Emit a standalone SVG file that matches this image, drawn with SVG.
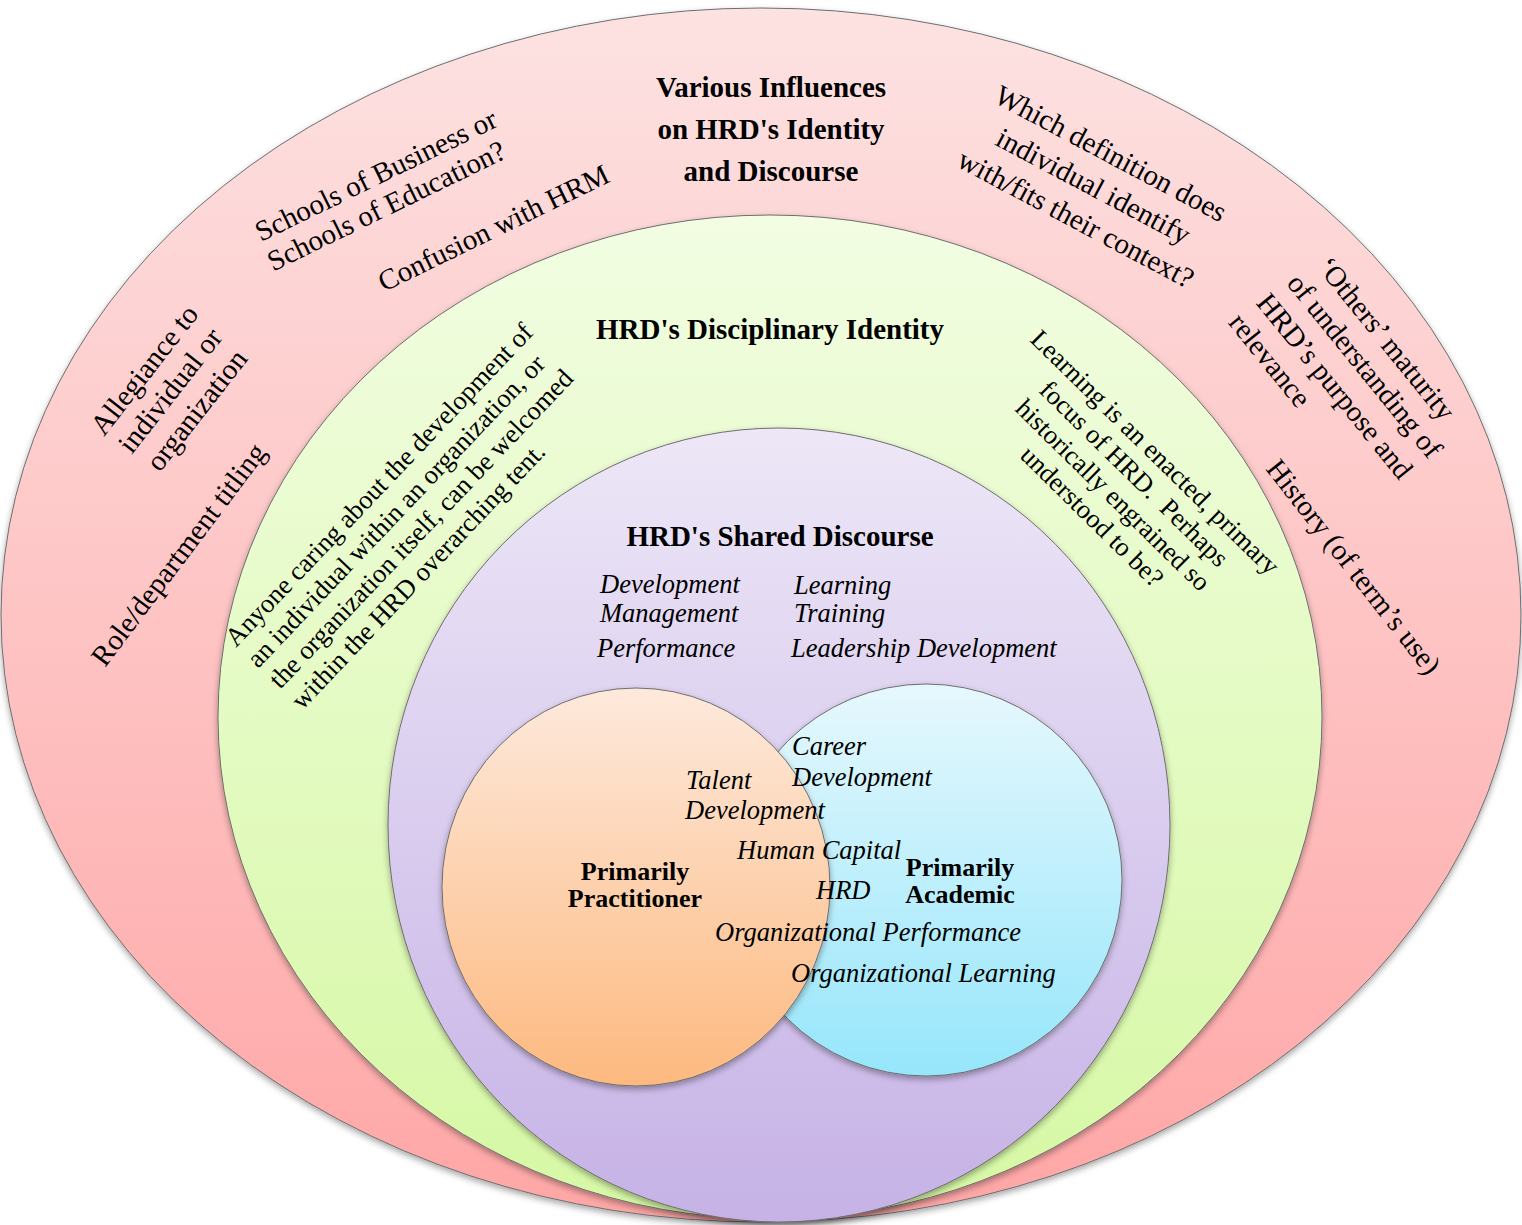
<svg xmlns="http://www.w3.org/2000/svg" width="1522" height="1225" viewBox="0 0 1522 1225">
<defs>
<linearGradient id="gRed" x1="0" y1="0" x2="0" y2="1"><stop offset="0" stop-color="#fde2e2"/><stop offset="1" stop-color="#ffa6a6"/></linearGradient>
<linearGradient id="gGreen" x1="0" y1="0" x2="0" y2="1"><stop offset="0" stop-color="#f2fde2"/><stop offset="1" stop-color="#d6f8a4"/></linearGradient>
<linearGradient id="gPurple" x1="0" y1="0" x2="0" y2="1"><stop offset="0" stop-color="#ede7f7"/><stop offset="1" stop-color="#c6b2e6"/></linearGradient>
<linearGradient id="gOrange" x1="0" y1="0" x2="0" y2="1"><stop offset="0" stop-color="#fde9dc"/><stop offset="1" stop-color="#fdb97f"/></linearGradient>
<linearGradient id="gBlue" x1="0" y1="0" x2="0" y2="1"><stop offset="0" stop-color="#e6f8fd"/><stop offset="1" stop-color="#96e6fb"/></linearGradient>
<filter id="sh" x="-5%" y="-5%" width="110%" height="112%"><feDropShadow dx="0" dy="3" stdDeviation="3" flood-color="#000" flood-opacity="0.35"/></filter>
</defs>
<style>
.shape{stroke:#6e6e6e;stroke-width:1;filter:url(#sh)}
text{font-family:"Liberation Serif","Times New Roman",serif;fill:#000}
.title{font-size:29px;font-weight:bold;text-anchor:middle}
.outer{font-size:29px}
.ring{font-size:26.5px}
.term{font-size:26.5px;font-style:italic}
.lbl{font-size:26px;font-weight:bold;text-anchor:middle}
</style>

<g id="influences">
<ellipse class="shape" cx="761" cy="615" rx="760" ry="607" fill="url(#gRed)"/>
<text class="title"><tspan x="771" y="97">Various Influences</tspan><tspan x="771" y="139">on HRD's Identity</tspan><tspan x="771" y="181">and Discourse</tspan></text>
<text class="outer" transform="translate(261,242) rotate(-26)"><tspan x="0" y="0">Schools of Business or</tspan><tspan x="-2" y="32">Schools of Education?</tspan></text>
<text class="outer" transform="translate(384,292) rotate(-26)">Confusion with HRM</text>
<text class="outer" transform="translate(104,437) rotate(-52)"><tspan x="0" y="0">Allegiance to</tspan><tspan x="3" y="33">individual or</tspan><tspan x="6" y="66">organization</tspan></text>
<text class="outer" transform="translate(105,668) rotate(-53)">Role/department titling</text>
<text class="outer" text-anchor="middle" transform="translate(1086,200) rotate(28)"><tspan x="0" y="-43">Which definition does</tspan><tspan x="0" y="-6">individual identify</tspan><tspan x="0" y="31">with/fits their context?</tspan></text>
<text class="outer" transform="translate(1316,267) rotate(51)"><tspan x="0" y="0">‘Others’ maturity</tspan><tspan x="-6" y="34">of understanding of</tspan><tspan x="-10" y="70">HRD’s purpose and</tspan><tspan x="-12" y="104">relevance</tspan></text>
<text class="outer" transform="translate(1265,469) rotate(52)">History (of term’s use)</text>
</g>

<g id="disciplinary-identity">
<ellipse class="shape" cx="770" cy="717" rx="552" ry="502" fill="url(#gGreen)"/>
<text class="title" x="770" y="339">HRD's Disciplinary Identity</text>
<text class="ring" transform="translate(236,648) rotate(-46.5)"><tspan x="0" y="0">Anyone caring about the development of</tspan><tspan x="0" y="30.4">an individual within an organization, or</tspan><tspan x="0" y="60.8">the organization itself, can be welcomed</tspan><tspan x="0" y="91.2">within the HRD overarching tent.</tspan></text>
<text class="ring" text-anchor="middle" transform="translate(1122,486) rotate(44.5)"><tspan x="0" y="-38.5">Learning is an enacted, primary</tspan><tspan x="0" y="-8.5">focus of HRD.&#160; Perhaps</tspan><tspan x="0" y="21.5">historically engrained so</tspan><tspan x="0" y="51.5">understood to be?</tspan></text>
</g>

<g id="shared-discourse">
<ellipse class="shape" cx="779" cy="825" rx="391" ry="397" fill="url(#gPurple)"/>
<text class="title" x="780" y="546">HRD's Shared Discourse</text>
<text class="term" x="600" y="593">Development</text>
<text class="term" x="600" y="622">Management</text>
<text class="term" x="597" y="657">Performance</text>
<text class="term" x="794" y="594">Learning</text>
<text class="term" x="794" y="622">Training</text>
<text class="term" x="791" y="657">Leadership Development</text>
</g>

<g id="primarily-academic">
<circle class="shape" cx="926" cy="880" r="196" fill="url(#gBlue)"/>
<text class="lbl"><tspan x="960" y="876">Primarily</tspan><tspan x="960" y="903">Academic</tspan></text>
</g>

<g id="primarily-practitioner">
<ellipse class="shape" cx="636" cy="887" rx="194" ry="199" fill="url(#gOrange)"/>
<text class="lbl"><tspan x="635" y="880">Primarily</tspan><tspan x="635" y="907">Practitioner</tspan></text>
</g>

<g id="overlap-terms">
<text class="term" x="792" y="755">Career</text>
<text class="term" x="792" y="786">Development</text>
<text class="term" x="686" y="789">Talent</text>
<text class="term" x="685" y="819">Development</text>
<text class="term" x="737" y="859">Human Capital</text>
<text class="term" x="816" y="899">HRD</text>
<text class="term" x="715" y="941">Organizational Performance</text>
<text class="term" x="791" y="982">Organizational Learning</text>
</g>

<g id="connectors"/>
</svg>
